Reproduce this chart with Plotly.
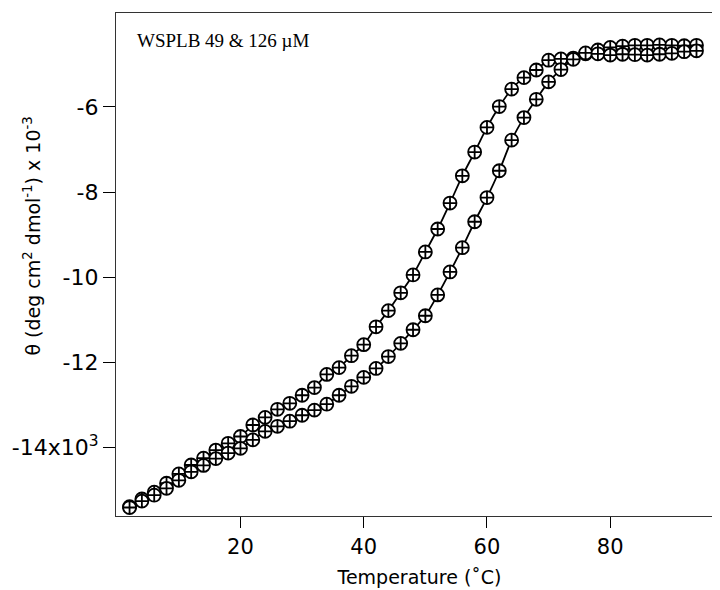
import plotly.graph_objects as go

temps = list(range(2, 96, 2))

theta_a = [-15.40, -15.22, -15.06, -14.85, -14.63, -14.42, -14.26, -14.07, -13.91, -13.75,
           -13.48, -13.30, -13.11, -12.97, -12.78, -12.60, -12.29, -12.13, -11.85, -11.59,
           -11.17, -10.79, -10.37, -9.95, -9.41, -8.87, -8.26, -7.62, -7.06, -6.48,
           -5.99, -5.58, -5.31, -5.13, -4.90, -4.87, -4.85, -4.75, -4.66, -4.60,
           -4.57, -4.55, -4.55, -4.54, -4.55, -4.56, -4.55]

theta_b = [-15.42, -15.27, -15.13, -14.97, -14.78, -14.58, -14.43, -14.27, -14.14, -14.03,
           -13.83, -13.63, -13.51, -13.39, -13.25, -13.13, -12.99, -12.78, -12.57, -12.36,
           -12.15, -11.87, -11.56, -11.24, -10.91, -10.42, -9.88, -9.31, -8.70, -8.13,
           -7.50, -6.78, -6.25, -5.82, -5.41, -5.12, -4.88, -4.73, -4.75, -4.78,
           -4.76, -4.77, -4.78, -4.76, -4.74, -4.70, -4.68]

x_tickvals = [20, 40, 60, 80]
y_tickvals = [-6, -8, -10, -12, -14]
y_ticktext = ["-6", "-8", "-10", "-12", "-14x10<sup>3</sup>"]

fig = go.Figure()
for ys in (theta_a, theta_b):
    fig.add_trace(go.Scatter(
        x=temps, y=ys, mode="lines+markers",
        line=dict(color="black", width=1.8, shape="spline", smoothing=0.8),
        marker=dict(symbol="circle-cross", size=13, color="white",
                    line=dict(color="black", width=1.8)),
        showlegend=False,
    ))

fig.update_layout(
    width=720, height=590,
    margin=dict(l=107, r=4, t=4, b=82),
    paper_bgcolor="white", plot_bgcolor="white",
    font=dict(family="DejaVu Sans", size=20, color="black"),
    xaxis=dict(range=[-0.2, 98.3], tickvals=x_tickvals, ticks="outside", ticklen=11,
               tickwidth=1.2, tickcolor="black", showgrid=False, zeroline=False,
               showline=True, linecolor="#333", linewidth=1.2, mirror=True,
               ticklabelstandoff=1, tickfont=dict(size=21),
               title=dict(text="Temperature (˚C)", standoff=12, font=dict(size=19))),
    yaxis=dict(range=[-15.62, -3.79], tickvals=y_tickvals, ticktext=y_ticktext,
               ticks="outside", ticklen=12, tickwidth=1.2, tickcolor="black",
               showgrid=False, zeroline=False, showline=True, linecolor="#333",
               linewidth=1.2, mirror=True, tickfont=dict(size=22)),
    annotations=[
        dict(text="WSPLB 49 &amp; 126 µM", xref="paper", yref="paper",
             x=0.032, y=0.945, xanchor="left", yanchor="middle", showarrow=False,
             font=dict(family="Liberation Serif", size=19, color="black")),
        dict(text="θ (deg cm<sup>2</sup> dmol<sup>-1</sup>) x 10<sup>-3</sup>",
             xref="paper", yref="paper", x=-0.138, y=0.556, textangle=-90,
             xanchor="center", yanchor="middle", showarrow=False,
             font=dict(family="DejaVu Sans", size=19, color="black")),
    ],
)

fig.write_html("out.html")
